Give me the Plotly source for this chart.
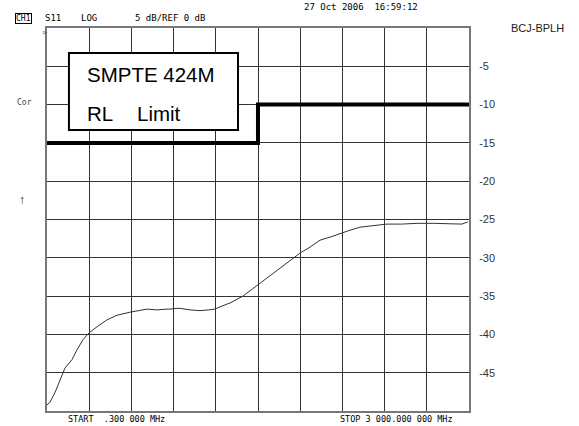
import plotly.graph_objects as go

# Measured S11 trace (MHz, dB)
freq_mhz = [0.3, 20, 57, 93, 128, 178, 214, 256, 299, 356, 427, 498, 590, 711, 782, 853,
            874, 924, 945, 1016, 1088, 1150, 1194, 1230, 1301, 1393, 1493, 1564, 1635,
            1727, 1798, 1870, 1941, 2012, 2083, 2154, 2225, 2320, 2417, 2520, 2630,
            2750, 2865, 2950, 2993]
s11_db = [-49.2, -48.9, -47.6, -46.0, -44.4, -43.3, -42.0, -40.7, -39.8, -39.0, -38.1,
          -37.5, -37.1, -36.7, -36.8, -36.7, -36.7, -36.6, -36.6, -36.8, -36.9, -36.8,
          -36.7, -36.4, -35.9, -35.0, -33.6, -32.6, -31.6, -30.3, -29.4, -28.6, -27.7,
          -27.3, -26.8, -26.4, -26.0, -25.8, -25.6, -25.6, -25.5, -25.5, -25.6, -25.6,
          -25.3]

# SMPTE 424M return-loss limit (MHz, dB)
limit_mhz = [0.3, 1500, 3000]
limit_db = [-15, -10, -10]

y_ticks = [-45, -40, -35, -30, -25, -20, -15, -10, -5]
y_ticktext = ["-45", "-40", "-35", "-30", "-25", "-20", "-15", "-10", "-5"]

fig = go.Figure()
fig.add_trace(go.Scatter(x=limit_mhz, y=limit_db, mode="lines", line_shape="hv",
                         line=dict(color="black", width=4), hoverinfo="skip"))
fig.add_trace(go.Scatter(x=freq_mhz, y=s11_db, mode="lines",
                         line=dict(color="#333333", width=1), hoverinfo="skip"))

mono = "DejaVu Sans Mono"
sans = "Liberation Sans, Arial"

fig.update_layout(
    width=579, height=426,
    margin=dict(l=47, r=110, t=28, b=15),
    paper_bgcolor="white", plot_bgcolor="white",
    showlegend=False,
    xaxis=dict(range=[0.3, 3000], tick0=0.3, dtick=299.97, showgrid=True,
               gridcolor="#333333", gridwidth=1, showticklabels=False, ticks="",
               zeroline=False, showline=True, linecolor="#777777", linewidth=2,
               mirror=True),
    yaxis=dict(range=[-50, 0], side="right", tickmode="array", tickvals=y_ticks,
               ticktext=y_ticktext, showgrid=True, gridcolor="#333333", gridwidth=1,
               zeroline=False, showline=True, linecolor="#777777", linewidth=2,
               mirror=True, ticks="", ticklabelstandoff=6,
               tickfont=dict(family=sans, size=11, color="#333333")),
    font=dict(family=sans),
)

# Annotation box
fig.add_shape(type="rect", xref="paper", yref="paper", x0=0.052, x1=0.4526,
              y0=0.734, y1=0.935, line=dict(color="black", width=2),
              fillcolor="white", layer="above")

anns = [
    dict(text="SMPTE 424M", x=85, y=75, xanchor="left", yanchor="middle",
         font=dict(family=sans, size=20.5, color="black")),
    dict(text="RL", x=85, y=113, xanchor="left", yanchor="middle",
         font=dict(family=sans, size=20.5, color="black")),
    dict(text="Limit", x=135, y=113, xanchor="left", yanchor="middle",
         font=dict(family=sans, size=20.5, color="black")),
    dict(text="CH1", x=15, y=18, xanchor="left", yanchor="middle",
         font=dict(family=mono, size=8, color="black"), bordercolor="black",
         borderwidth=1, borderpad=0),
    dict(text="S11", x=43, y=18, xanchor="left", yanchor="middle",
         font=dict(family=mono, size=9, color="black")),
    dict(text="LOG", x=79, y=18, xanchor="left", yanchor="middle",
         font=dict(family=mono, size=9, color="black")),
    dict(text="5 dB/REF 0 dB", x=133, y=18, xanchor="left", yanchor="middle",
         font=dict(family=mono, size=9, color="black")),
    dict(text="27 Oct 2006  16:59:12", x=302, y=7, xanchor="left", yanchor="middle",
         font=dict(family=mono, size=9, color="black")),
    dict(text="BCJ-BPLH", x=509, y=28, xanchor="left", yanchor="middle",
         font=dict(family=sans, size=11, color="#222222")),
    dict(text="Cor", x=15, y=103, xanchor="left", yanchor="middle",
         font=dict(family=mono, size=8, color="#444444")),
    dict(text="↑", x=22, y=200, xanchor="center", yanchor="middle",
         font=dict(family=sans, size=12, color="#222222")),
    dict(text="START  .300 000 MHz", x=66, y=419, xanchor="left", yanchor="middle",
         font=dict(family=mono, size=8.5, color="black")),
    dict(text="STOP 3 000.000 000 MHz", x=338, y=419, xanchor="left", yanchor="middle",
         font=dict(family=mono, size=8.5, color="black")),
]
for a in anns:
    px, py = a.pop("x"), a.pop("y")
    fig.add_annotation(xref="paper", yref="paper", x=(px - 47) / 422,
                       y=(411 - py) / 383, showarrow=False, **a)

fig.add_annotation(xref="paper", yref="paper", x=(45 - 47) / 422, y=(411 - 31) / 383,
                   text="▷", showarrow=False, xanchor="center", yanchor="middle",
                   font=dict(family=mono, size=6, color="black"))

fig.write_html("out.html", config={"displayModeBar": False},
               post_script="document.body.style.margin='0';document.body.style.overflow='hidden';")
